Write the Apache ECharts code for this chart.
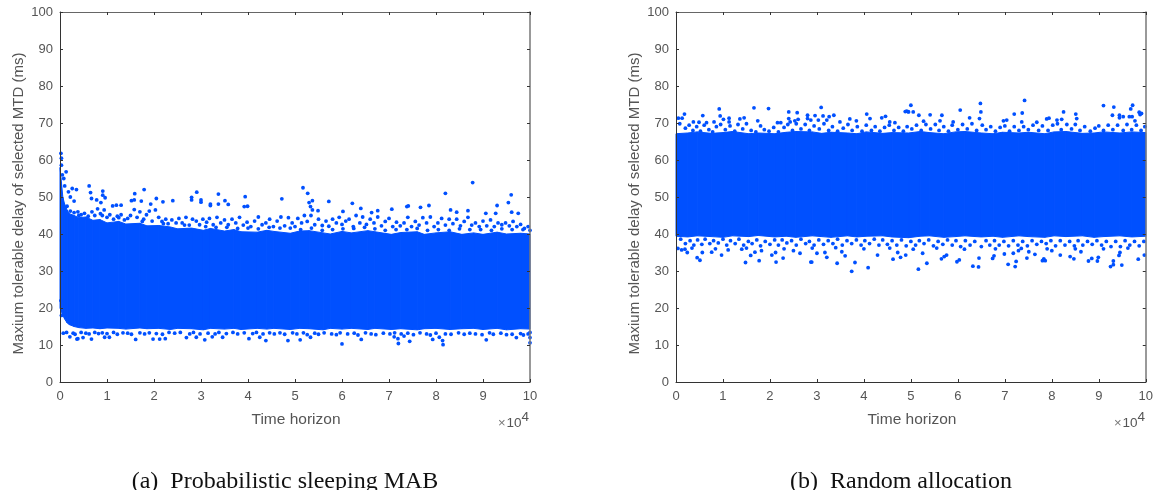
<!DOCTYPE html>
<html><head><meta charset="utf-8">
<style>html,body{margin:0;padding:0;background:#fff}#c{width:1156px;height:490px}</style>
<script src="https://cdn.jsdelivr.net/npm/echarts@6/dist/echarts.min.js"></script></head>
<body><div id="c"></div>
<script>
const xTicks=[0,1,2,3,4,5,6,7,8,9,10];
const caption=['(a)  Probabilistic sleeping MAB','(b)  Random allocation'];
// dense body of each cloud, read as [x, lower, upper] (x in units of 10^4, values in ms)
const bodyA=[[0,20,58],[.03,19,54],[.06,18,50],[.1,17,48],[.15,16,46.5],[.2,15.5,45.5],[.3,15,45],[.4,14.7,44.4],[.55,14.5,44.6],[.7,14.6,43.7],[.85,14.4,43.9],[1,14.6,43],[1.25,14.5,43.4],[1.4,14.3,42.7],[1.7,14.6,42.9],[1.85,14.4,42.2],[2.1,14.5,42.3],[2.35,14.2,41.9],[2.5,14.5,41.4],[2.8,14.4,41.6],[3.05,14.1,41],[3.2,14.5,41.5],[3.5,14.3,40.8],[3.7,14.5,41.2],[3.85,14.2,40.6],[4.2,14.5,40.5],[4.4,14.3,41],[4.55,14.5,40.7],[4.9,14.2,40.2],[5.1,14.5,40.8],[5.3,14.4,40.9],[5.6,14.1,40.3],[5.75,14.5,40],[6,14.3,40.7],[6.2,14.5,40.3],[6.55,14.2,40.9],[6.7,14.5,40.6],[7.05,14.2,39.9],[7.25,14.4,40.4],[7.6,14.1,40.6],[7.75,14.4,39.9],[8,14.5,40.3],[8.3,14.2,40.6],[8.55,14.4,39.9],[8.8,14.5,40.3],[9,14.2,39.9],[9.3,14.5,40.5],[9.5,14.1,40],[9.8,14.4,40.2],[10,14.3,40]];
const bodyB=[[0,39.4,67.1],[.25,39.2,67.3],[.45,39.5,67.6],[.75,39.3,67.2],[1,39.1,67.4],[1.2,39.5,67.7],[1.55,39.3,67.1],[1.75,39.6,67.3],[2.1,39.2,67.1],[2.35,39.4,67.5],[2.55,39.1,67.7],[2.9,39.5,67.6],[3.1,39.3,67.2],[3.3,39.1,67.5],[3.65,39.5,67.3],[3.85,39.2,67.1],[4.05,39.4,67.6],[4.4,39.5,67.2],[4.6,39.2,67.4],[4.95,39,67.3],[5.2,39.4,67.7],[5.4,39.5,67.4],[5.7,39.1,67.1],[5.95,39.3,67.6],[6.15,39.5,67.7],[6.5,39.2,67.3],[6.75,39.4,67.1],[6.95,39.1,67.5],[7.3,39.5,67.3],[7.5,39.3,67.5],[7.85,39.1,67.1],[8.05,39.5,67.6],[8.3,39.3,67.7],[8.65,39.5,67.2],[8.9,39.1,67.3],[9.1,39.3,67.6],[9.45,39.5,67.3],[9.7,39.2,67.6],[10,39.4,67.4]];
// sparse points above and below the body, read one by one
const outerA=[[.02,61.8],[.03,60.5],[.03,58.6],[.13,56.8],[.05,56],[.08,55],[.1,53],[.26,52.3],[.35,52],[.62,53],[.65,51.2],[.67,49.6],[.91,51.6],[.91,50.5],[.96,49.8],[1.59,50.9],[1.58,49.2],[1.79,52],[1.73,48.9],[1.52,49],[.78,49.2],[.87,48.5],[2.4,49],[2.05,49.6],[1.93,48.1],[2.19,48.7],[2.8,49.9],[2.8,49.2],[2.91,51.3],[3,49.2],[3,48.6],[3.37,50.8],[3.2,48.1],[3.2,47.7],[3.37,48.1],[3.51,49],[3.58,48],[3.94,50.1],[3.92,47.4],[3.99,47.5],[4.72,49.5],[.18,51.4],[.3,48.9],[.22,50],[1.2,47.8],[1.3,47.8],[1.12,47.6],[5.17,52.5],[5.27,51],[5.37,49],[5.3,48.5],[5.33,47.4],[5.37,46.5],[5.49,46.3],[5.72,48.8],[6.22,48.3],[6.02,46.1],[6.4,46.9],[6.63,45.8],[6.76,46.3],[7.06,46.7],[7.41,47.6],[7.38,47.4],[7.67,47.2],[7.85,47.7],[8.2,51],[8.31,46.5],[8.44,45.9],[8.68,46.3],[8.78,53.9],[9.06,45.6],[9.27,45.6],[9.3,47.7],[9.54,48.5],[9.6,50.6],[9.61,45.9],[9.75,45.6],
[5.11,11.4],[6,10.3],[6.41,11.5],[7.11,12.2],[7.19,11.7],[7.2,10.4],[7.44,11],[7.93,11.5],[8.07,12.1],[8.14,11.2],[8.15,10.1],[9.07,11.4],[9.71,12],[5.33,12.1],[7.32,12.4],[.21,12.2],[.36,11.6],[.38,11.7],[.49,12],[.67,11.6],[.95,12.1],[1.05,12.1],[1.61,11.5],[1.98,11.6],[2.12,11.6],[2.24,11.7],[2.69,12],[2.9,12.1],[3.08,11.4],[3.24,12.2],[3.46,12.1],[4.02,11.7],[4.25,12.1],[4.38,11.2],[4.85,11.2],[.07,13.2],[.03,18],[.02,22],[10,10.6],[10,12]];
const fringeA=[[.15,47.5],[.22,46.2],[.3,45.8],[.38,46],[.45,45.2],[.52,45.6],[.6,44.8],[.68,46],[.74,45],[.8,46.8],[.86,45.5],[.94,46.5],[1,44.5],[1.06,45.2],[1.14,44],[1.22,44.8],[1.3,45.2],[1.37,43.8],[1.44,44.2],[1.5,45],[1.58,46.6],[1.64,44.5],[1.7,46],[1.78,44],[1.84,45.2],[1.9,46.2],[1.96,43.5],[2.03,46.5],[2.1,44.5],[2.17,43.4],[2.25,44],[2.3,42.8],[2.38,43.8],[2.47,43],[2.53,44.2],[2.6,43],[2.68,44.5],[2.75,42.4],[2.82,44],[2.9,43.5],[2.97,42.5],[3.04,44],[3.12,43.2],[3.18,44.2],[3.26,42.5],[3.34,44.5],[3.42,43],[3.5,43.8],[3.58,42.5],[3.66,44],[3.74,43],[3.82,44.5],[3.9,42.4],[3.98,43.2],[4.06,42],[4.14,43.5],[4.22,44.6],[4.3,42.5],[4.38,43],[4.46,44],[4.54,42],[4.62,43.5],[4.7,44.6],[4.78,42.2],[4.86,44.4],[4.94,43],[5,42],[5.06,44.2],[5.14,43],[5.2,45],[5.26,43.4],[5.34,45],[5.42,42.5],[5.5,44],[5.58,42.3],[5.66,43.5],[5.72,42.1],[5.8,44],[5.88,43],[5.94,44.5],[6,42.6],[6.08,43.5],[6.15,44],[6.24,42],[6.3,45],[6.38,43],[6.44,44.6],[6.52,42.6],[6.6,44],[6.68,43],[6.76,44.6],[6.84,42.2],[6.92,43.4],[7,44.2],[7.08,42],[7.16,43.2],[7.24,42.2],[7.32,43],[7.4,44.5],[7.48,42],[7.56,43.4],[7.64,42.4],[7.72,44.4],[7.8,43],[7.88,44.6],[7.96,42],[8.04,43],[8.12,44.2],[8.2,42.4],[8.28,44],[8.36,42.8],[8.44,44],[8.52,42.2],[8.6,43.4],[8.68,44.5],[8.76,42.4],[8.84,43],[8.92,42],[9,43.5],[9.08,42.2],[9.16,43.8],[9.24,42],[9.32,43],[9.4,42.5],[9.48,43],[9.56,42.2],[9.64,43.4],[9.72,42],[9.8,42.6],[9.88,41.5],[9.96,42],[10,41],
[.4,45],[.9,45],[1.25,44.4],[1.75,43.4],[2.2,42.8],[2.65,42.4],[3.1,42],[3.55,41.8],[4,41.6],[4.45,41.8],[4.9,41.6],[5.35,41.6],[5.8,41.2],[6.25,41.5],[6.7,41.4],[7.15,41.2],[7.6,41.5],[8.05,41.2],[8.5,41.4],[8.95,41.2],[9.4,41.4],[9.85,41.2],[3.32,41.8],[3.78,41.5],[4.22,41.4],[4.68,41.6],[5.12,41.2],[5.58,41],[6.02,41.4],[6.48,41.8],[6.92,41],[7.38,41.2],[7.82,41],[8.28,41],[8.72,41.2],[9.18,41],[9.62,41.2],
[.14,13.4],[.28,13.2],[.32,12.9],[.45,13.4],[.55,13.2],[.62,13],[.74,13.4],[.82,13.1],[.9,13.3],[1,13.1],[1.14,13.4],[1.22,12.9],[1.34,13.3],[1.44,13.2],[1.52,12.9],[1.7,13.3],[1.8,13],[1.9,13.3],[2.05,13.1],[2.18,12.9],[2.32,13.4],[2.44,13.2],[2.56,13.4],[2.76,13],[2.84,13.4],[2.98,13],[3.15,13.2],[3.3,13],[3.38,13.4],[3.54,13.1],[3.68,13.4],[3.78,13],[3.92,13.3],[4.1,13.1],[4.18,13.4],[4.32,13],[4.46,13.3],[4.56,13],[4.68,13.3],[4.78,12.9],[4.95,13.3],[5.04,13],[5.18,13.3],[5.26,12.8],[5.42,13.2],[5.5,12.9],[5.62,13.3],[5.78,13],[5.88,12.8],[5.96,13.3],[6.12,13],[6.26,13.2],[6.34,12.7],[6.5,13.3],[6.62,13],[6.72,12.8],[6.88,13.2],[7.02,13],[7.12,13.3],[7.26,13],[7.4,13.2],[7.52,12.8],[7.66,13.3],[7.8,13],[7.88,12.7],[8,13.2],[8.2,13],[8.32,12.9],[8.48,13.3],[8.6,12.9],[8.72,13.2],[8.84,13],[8.98,12.8],[9.14,13.3],[9.22,12.9],[9.38,13.2],[9.5,12.8],[9.62,12.9],[9.8,13.1],[9.86,12.7],[9.96,13],[10,13.4]];
const outerB=[[.92,73.8],[1.66,74.1],[1.97,73.9],[3.09,74.2],[2.4,73],[2.58,72.8],[.57,72],[.18,72.4],[.05,71.3],[.13,71.3],[.94,71.9],[1.01,71],[1.13,71.3],[1.13,70.3],[1.36,71.1],[1.45,71.4],[1.74,70.6],[2.16,70.1],[2.23,70.1],[2.4,71.2],[2.43,70.3],[2.53,70.6],[2.6,71],[2.8,72.1],[2.8,71.2],[2.96,72],[2.87,70.8],[3.03,70.8],[3.13,71.9],[3.26,71.7],[3.36,72.1],[3.21,70.8],[3.49,70.3],[3.7,71.1],[3.84,70.6],[4.06,72.4],[4.13,71.2],[4.38,71.4],[4.46,71.8],[4.55,70.3],[4.66,70.1],[4.91,73.2],[4.94,73.1],[.37,70.3],[.49,70.2],[.65,70.1],[.81,70.3],
[5,74.8],[4.88,73.1],[4.95,73],[5.05,73],[5.17,72.1],[5.41,72.2],[5.66,72.1],[6.05,73.5],[6.48,75.3],[6.49,73],[6.25,71.4],[6.46,71.2],[7.2,72.4],[7.37,72.7],[7.42,76.1],[7.36,70.3],[7.68,70.2],[7.89,71.1],[7.94,71.3],[8.25,73],[8.51,72.4],[8.53,71.2],[8.11,70.8],[8.21,71],[9.1,74.7],[9.32,74.3],[9.29,72.1],[9.44,72.1],[9.44,71.4],[9.52,71.7],[9.65,71.7],[9.71,71.7],[9.68,73.8],[9.72,74.8],[9.86,72.9],[9.91,72.6],[9.88,72.3],[9.77,70.6],[5.27,70.5],[5.9,70.3],[5.62,70.6],[6.97,70.6],[7.04,70.8],
[3.74,29.9],[4.09,30.9],[3.81,32.3],[3.43,32.1],[2.87,32.4],[2.89,32.4],[2.13,32.4],[1.77,32.8],[1.48,32.3],[2.28,33.5],[.51,32.9],[.45,33.6],[.97,34.3],[1.59,34.2],[1.68,35.1],[1.82,35.5],[2.04,34.3],[2.12,35],[3.21,33.7],[3.6,34.1],[4.62,33.2],[4.78,33.7],[4.89,34.3],[4.72,35],[4.29,34.3],[.76,35.1],[.24,35],[.04,36.1],[.12,35.7],[.19,35.9],[.56,35],[1.11,35.7],[1.4,35.9],[2.5,35.5],[2.64,34.8],[3,34.8],[3.53,35.2],[3.17,35],
[5.16,30.5],[5.34,32.1],[6.32,31.3],[6.44,31.1],[7.07,31.8],[7.22,31.2],[7.24,32.6],[6.45,33.5],[5.98,32.5],[6.03,33],[5.65,33.3],[5.25,34.8],[5.71,33.9],[5.76,34.3],[6.74,33.4],[6.77,34.1],[6.99,34.6],[7.18,34.8],[7.29,35.5],[7.51,35.2],[7.64,34.5],[7.47,33.5],[7.8,32.8],[7.86,32.8],[7.83,33.3],[8.18,34.3],[8.39,33.9],[8.47,33.3],[8.62,35.2],[8.78,32.7],[8.85,33.4],[8.97,32.7],[8.99,33.7],[9.25,31.2],[9.31,31.7],[9.31,32.7],[9.49,31.6],[9.43,34.2],[9.45,35],[9.84,33.2],[9.97,34.3],[8,35.5]];
const fringeB=[[.08,69.8],[.2,68.6],[.28,69.4],[.36,68],[.44,69],[.52,67.8],[.6,69.4],[.7,68.2],[.78,67.6],[.86,69],[.95,69.6],[1.05,68.2],[1.15,69.2],[1.25,67.8],[1.32,69.6],[1.42,68.4],[1.5,69.8],[1.6,68],[1.7,67.6],[1.8,69.2],[1.88,68.2],[1.98,67.8],[2.08,68.8],[2.18,67.6],[2.3,68.8],[2.38,69.6],[2.48,68],[2.56,69.8],[2.66,68.4],[2.75,69.6],[2.84,68],[2.94,69.2],[3.05,68.4],[3.15,69.8],[3.25,68],[3.33,69],[3.44,67.8],[3.56,68.6],[3.66,69.6],[3.75,68],[3.86,69],[3.96,67.8],[4.05,69.4],[4.16,68],[4.24,69],[4.34,67.8],[4.44,68.8],[4.54,69.4],[4.64,68],[4.74,68.8],[4.84,67.8],[4.92,69],[5.02,68.4],[5.12,69.4],[5.22,68],[5.32,69.6],[5.42,68.4],[5.52,69.6],[5.6,68],[5.7,69],[5.8,67.8],[5.88,69.4],[6,68.2],[6.1,69.6],[6.2,68.4],[6.3,69.8],[6.4,68],[6.52,69.4],[6.6,68.2],[6.7,69],[6.8,67.8],[6.9,68.8],[7,69.2],[7.1,67.8],[7.2,69],[7.3,68],[7.4,69],[7.5,68.2],[7.6,69.4],[7.72,68],[7.8,69.2],[7.92,68],[8.02,69.4],[8.12,69.8],[8.2,68.2],[8.32,69.6],[8.42,68.4],[8.5,69.6],[8.6,68],[8.7,69],[8.82,67.8],[8.92,68.6],[9,69.2],[9.1,68],[9.2,69.4],[9.3,68.2],[9.4,69.4],[9.52,68],[9.6,69.6],[9.7,68.2],[9.8,69.4],[9.9,68],[9.98,69],
[.1,38.6],[.2,37.4],[.3,38.2],[.38,37],[.46,38.4],[.55,37.2],[.62,38.6],[.72,37.4],[.8,38.2],[.9,37.6],[1,38.6],[1.08,37],[1.16,38.2],[1.26,37.4],[1.34,38.6],[1.44,37],[1.54,38],[1.62,37.4],[1.72,38.4],[1.8,36.8],[1.9,38],[2,37.2],[2.1,38.4],[2.18,37],[2.26,38.4],[2.36,37.6],[2.46,38.2],[2.56,37],[2.66,38.6],[2.76,37.4],[2.84,38],[2.94,37],[3.04,38.4],[3.14,37.2],[3.24,38.2],[3.34,37.4],[3.44,38.6],[3.54,37],[3.64,38.2],[3.74,37.4],[3.84,38.4],[3.94,37],[4.02,38.2],[4.12,37.4],[4.22,38.6],[4.32,37],[4.4,38.4],[4.5,37.2],[4.6,38.2],[4.7,37],[4.8,38.4],[4.9,36.8],[5,38],[5.1,37],[5.18,38.2],[5.28,37.4],[5.38,38.4],[5.48,36.8],[5.58,38],[5.68,37.2],[5.78,38.4],[5.88,37],[5.96,38.2],[6.06,36.6],[6.16,38.2],[6.26,37],[6.36,38],[6.5,36.6],[6.6,38.2],[6.68,37],[6.78,38.2],[6.88,37],[6.98,38],[7.08,36.8],[7.18,38.2],[7.28,37],[7.38,38],[7.48,36.8],[7.58,38.2],[7.68,37.2],[7.78,38],[7.88,37.4],[7.98,38.2],[8.08,36.8],[8.18,38.2],[8.28,37],[8.38,38],[8.48,36.8],[8.56,38.2],[8.66,37],[8.76,38],[8.86,37.2],[8.96,38.2],[9.06,37],[9.16,38],[9.26,36.6],[9.36,38],[9.46,36.6],[9.56,38.2],[9.66,37],[9.76,38],[9.86,36.8],[9.96,38],
[.34,36.2],[.84,36],[1.5,36.2],[2.3,36],[2.9,36.2],[3.4,36.3],[4,36],[4.55,36.2],[5.05,35.9],[5.55,36.2],[6.14,35.9],[6.8,36],[7.35,36.1],[7.9,36],[8.5,36],[9.1,36],[9.62,36.2]];
const cloudColor='#0050ff';
const bandSeries=(body,i)=>({type:'custom',xAxisIndex:i,yAxisIndex:i,silent:true,z:2,
  data:body.slice(0,-1).map((r,k)=>[r[0],r[1],r[2],body[k+1][0],body[k+1][1],body[k+1][2]]),
  encode:{x:[0,3],y:[1,2,4,5]},
  renderItem:(p,api)=>({type:'polygon',shape:{points:[api.coord([api.value(0),api.value(1)]),api.coord([api.value(3),api.value(4)]),api.coord([api.value(3),api.value(5)]),api.coord([api.value(0),api.value(2)])]},style:{fill:cloudColor,stroke:cloudColor,lineWidth:1}})});
const dots=(d,i)=>({type:'scatter',xAxisIndex:i,yAxisIndex:i,data:d,symbol:'circle',symbolSize:3.8,silent:true,z:3,clip:false,itemStyle:{color:cloudColor,opacity:1},animation:false});
const F='"Liberation Sans",Arial,sans-serif',txt='#555',line='#333';
const grids=[{left:60,top:12,width:470,height:370},{left:676,top:12,width:470,height:370}];
const xAx=(i,pos,show)=>({type:'value',gridIndex:i,position:pos,min:0,max:10,interval:1,z:5,
  axisLine:{show:true,onZero:false,lineStyle:{color:show?line:'#666',width:show?1:1.2}},axisTick:{show:true,inside:true,length:3,lineStyle:{color:line}},
  axisLabel:{show,margin:8,color:txt,fontFamily:F,fontSize:13,hideOverlap:false,formatter:v=>xTicks.includes(v)?String(v):''},splitLine:{show:false},
  name:show?'Time horizon':'',nameLocation:'middle',nameGap:30,nameTextStyle:{color:txt,fontFamily:F,fontSize:15.5,padding:[0,0,0,2]}});
const yAx=(i,pos,show)=>({type:'value',gridIndex:i,position:pos,min:0,max:100,interval:10,z:5,
  axisLine:{show:true,onZero:false,lineStyle:{color:show?line:'#777',width:show?1:1.5}},axisTick:{show:true,inside:true,length:3,lineStyle:{color:line}},
  axisLabel:{show,margin:7,color:txt,fontFamily:F,fontSize:13},splitLine:{show:false},
  name:show?'Maxium tolerable delay of selected MTD (ms)':'',nameLocation:'middle',nameGap:34,nameRotate:90,nameTextStyle:{color:txt,fontFamily:F,fontSize:15,padding:[0,13,0,0]}});
const rich={a:{fontSize:13,fontWeight:'normal',color:'#777',fontFamily:F,padding:[3,0,0,0]},b:{fontSize:13.5,fontWeight:'normal',color:txt,fontFamily:F,padding:[3,0,0,1]},c:{fontSize:13.5,fontWeight:'normal',color:txt,fontFamily:F,padding:[0,0,9,0]}};
const exp=(right)=>({right,top:405,text:'{a|×}{b|10}{c|4}',textStyle:{fontWeight:'normal',rich}});
const cap=(text,cx)=>({left:cx,top:465,textAlign:'center',text,textStyle:{fontFamily:'"Liberation Serif",serif',fontWeight:'normal',fontSize:24,color:'#111'}});
const chart=echarts.init(document.getElementById('c'),null,{renderer:'canvas'});
chart.setOption({animation:false,backgroundColor:'#fff',grid:grids,
 title:[exp(622),exp(6),cap(caption[0],280),cap(caption[1],896)],
 xAxis:[xAx(0,'bottom',true),xAx(1,'bottom',true),xAx(0,'top',false),xAx(1,'top',false)],
 yAxis:[yAx(0,'left',true),yAx(1,'left',true),yAx(0,'right',false),yAx(1,'right',false)],
 series:[bandSeries(bodyA,0),bandSeries(bodyB,1),dots(outerA.concat(fringeA),0),dots(outerB.concat(fringeB),1)]});
</script></body></html>
